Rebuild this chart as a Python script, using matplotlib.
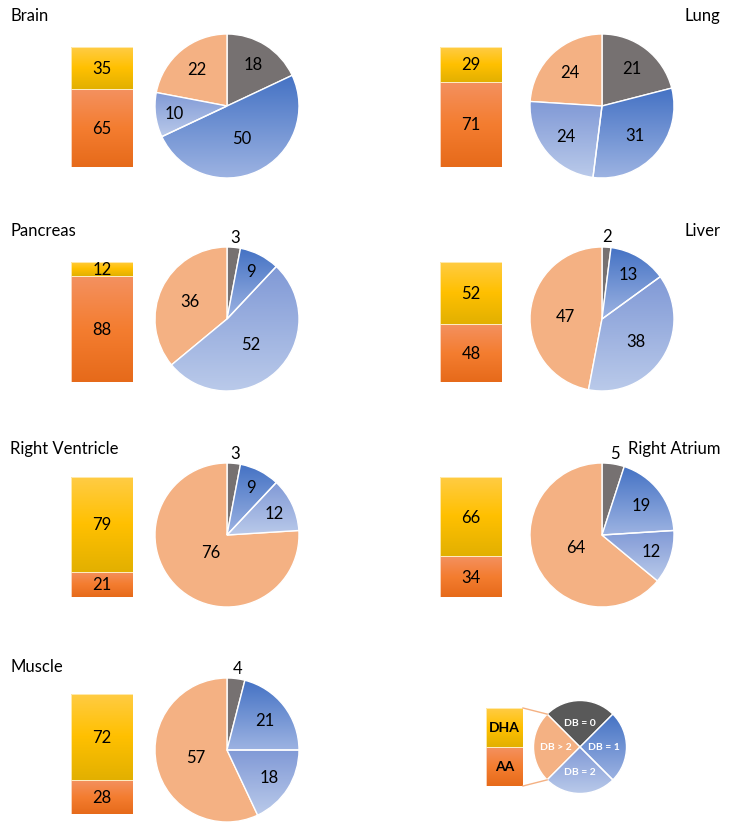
import numpy as np
import matplotlib.pyplot as plt
from matplotlib.colors import LinearSegmentedColormap
from matplotlib.lines import Line2D

plt.rcParams['font.family'] = ['Lato', 'DejaVu Sans']

# data ------------------------------------------------------------
tissues = ['Brain', 'Lung', 'Pancreas', 'Liver', 'Right Ventricle', 'Right Atrium', 'Muscle']
dha = [35, 29, 12, 52, 79, 66, 72]
aa = [65, 71, 88, 48, 21, 34, 28]
db0 = [18, 21, 3, 2, 3, 5, 4]
db1 = [50, 31, 9, 13, 9, 19, 21]
db2 = [10, 24, 52, 38, 12, 12, 18]
db3 = [22, 24, 36, 47, 76, 64, 57]
legend_db = ['DB = 0', 'DB = 1', 'DB = 2', 'DB > 2']

# layout (pixels) -------------------------------------------------
W, H = 729, 829
col_bar_x = [71, 440]
col_pie_x = [227, 602]
col_title_x = [10, 720]
row_bar_top = [48, 263, 478, 695]
row_pie_y = [107, 320, 536, 751]
row_title_y = [16, 231, 449, 667]
bar_w, bar_h = 62, 120
rad = 72

gray = '#767171'
peach = '#F4B183'
blue1 = ['#4472C4', '#9DB3E2']
blue2 = ['#8099D6', '#BACAEA']
yel = ['#E2B000', '#FFC000', '#FFCC45']
org = ['#E66A1A', '#F47D30', '#F39160']

fig = plt.figure(figsize=(W / 100, H / 100), dpi=100)


def rect(x, y, w, h):
    return [x / W, 1 - (y + h) / H, w / W, h / H]


def grad(ax, patch, cols, bbox, z):
    cmap = LinearSegmentedColormap.from_list('g', cols)
    img = np.linspace(0, 1, 256).reshape(-1, 1)
    x0, y0, x1, y1 = bbox
    im = ax.imshow(img, cmap=cmap, extent=[x0, x1, y0, y1], origin='lower',
                   aspect='auto', interpolation='bilinear', zorder=z)
    im.set_clip_path(patch)


def draw_bar(ax, lo, hi, lab_lo, lab_hi, fs=12, bold=False):
    b1 = ax.bar(0.5, lo, width=1, color=org[1], edgecolor='#FBE3D2', lw=0.6)[0]
    b2 = ax.bar(0.5, hi, width=1, bottom=lo, color=yel[1], edgecolor='#FFF0C0', lw=0.6)[0]
    for b, cols in [(b1, org), (b2, yel)]:
        bb = (0, b.get_y(), 1, b.get_y() + b.get_height())
        grad(ax, b, cols, bb, 1.5)
        b.set_facecolor('none')
        b.set_zorder(2)
    ax.text(0.5, lo / 2, lab_lo, ha='center', va='center', fontsize=fs,
            fontweight='bold' if bold else 'normal', zorder=4)
    ax.text(0.5, lo + hi / 2, lab_hi, ha='center', va='center', fontsize=fs,
            fontweight='bold' if bold else 'normal', zorder=4)
    ax.set_xlim(0, 1)
    ax.set_ylim(0, lo + hi)
    ax.axis('off')


def draw_pie(ax, vals, start=90):
    wedges, _ = ax.pie(vals, colors=[gray, blue1[0], blue2[0], peach], startangle=start,
                       counterclock=False, radius=1,
                       wedgeprops=dict(edgecolor='white', linewidth=1))
    for w, cols in [(wedges[1], blue1), (wedges[2], blue2)]:
        grad(ax, w, cols[::-1], w.get_path().get_extents().extents, 1.5)
        w.set_facecolor('none')
        w.set_zorder(2)
    ax.set_xlim(-1, 1)
    ax.set_ylim(-1, 1)
    ax.axis('off')
    return wedges


for i, name in enumerate(tissues):
    r, c = divmod(i, 2)
    axb = fig.add_axes(rect(col_bar_x[c], row_bar_top[r], bar_w, bar_h))
    draw_bar(axb, aa[i], dha[i], str(aa[i]), str(dha[i]))

    cx, cy = col_pie_x[c], row_pie_y[r]
    axp = fig.add_axes(rect(cx - rad * 1.25, cy - rad * 1.25, 2.5 * rad, 2.5 * rad))
    vals = [db0[i], db1[i], db2[i], db3[i]]
    wedges = draw_pie(axp, vals)
    axp.set_xlim(-1.25, 1.25)
    axp.set_ylim(-1.25, 1.25)
    for w, v in zip(wedges, vals):
        ang = np.deg2rad((w.theta1 + w.theta2) / 2)
        d = 1.15 if v < 6 else 0.8 - 0.0062 * v
        axp.text(d * np.cos(ang), d * np.sin(ang), str(v), ha='center', va='center',
                 fontsize=12, zorder=5)

    fig.text(col_title_x[c] / W, 1 - row_title_y[r] / H, name, fontsize=12,
             ha='left' if c == 0 else 'right', va='center')

# legend ----------------------------------------------------------
lx, ly, lw, lh = 486, 709, 37, 78
lcx, lcy, lr = 580, 748, 46.5
axl = fig.add_axes(rect(lx, ly, lw, lh))
draw_bar(axl, 50, 50, 'AA', 'DHA', fs=10, bold=True)

axlp = fig.add_axes(rect(lcx - lr, lcy - lr, 2 * lr, 2 * lr))
lw_ = draw_pie(axlp, [25, 25, 25, 25], start=135)
lw_[0].set_facecolor('#595959')
for w, t in zip(lw_, legend_db):
    ang = np.deg2rad((w.theta1 + w.theta2) / 2)
    axlp.text(0.52 * np.cos(ang), 0.52 * np.sin(ang), t, ha='center', va='center',
              fontsize=7.5, fontweight='bold', color='white', zorder=5)

for a in (135, 225):
    px = lcx + lr * np.cos(np.deg2rad(a))
    py = lcy - lr * np.sin(np.deg2rad(a))
    by = ly if a == 135 else ly + lh
    fig.add_artist(Line2D([(lx + lw) / W, px / W], [1 - by / H, 1 - py / H],
                          color=peach, lw=1, transform=fig.transFigure))

fig.savefig('out.png', dpi=100)
